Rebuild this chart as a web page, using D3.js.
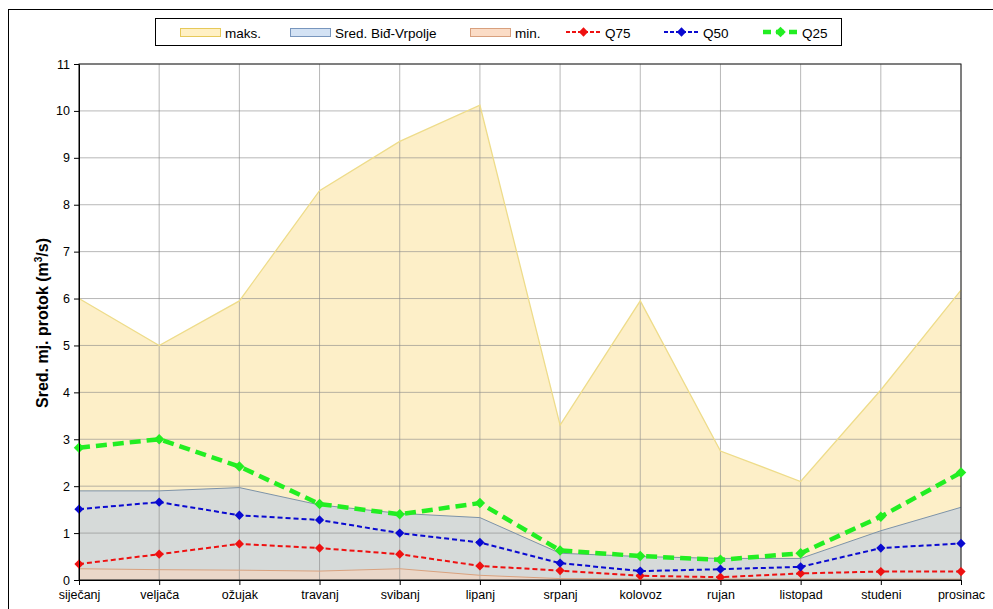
<!DOCTYPE html>
<html>
<head>
<meta charset="utf-8">
<script src="https://cdn.jsdelivr.net/npm/d3@7"></script>
<style>
  body { margin: 0; background: #fff; }
  text { font-family: "Liberation Sans", Arial, sans-serif; }
</style>
</head>
<body>
<svg id="chart"></svg>
<script>
const width = 993;
const height = 609;

const months = ["siječanj", "veljača", "ožujak", "travanj", "svibanj", "lipanj",
  "srpanj", "kolovoz", "rujan", "listopad", "studeni", "prosinac"];

const maks = [6.0, 5.0, 5.95, 8.3, 9.35, 10.12, 3.3, 5.95, 2.75, 2.1, 4.05, 6.18];
const sred = [1.9, 1.9, 1.97, 1.6, 1.42, 1.33, 0.57, 0.5, 0.46, 0.46, 1.05, 1.55];
const minv = [0.24, 0.22, 0.21, 0.19, 0.24, 0.1, 0.03, 0.02, 0.02, 0.02, 0.02, 0.02];
const q75 = [0.34, 0.55, 0.77, 0.68, 0.55, 0.3, 0.2, 0.09, 0.06, 0.14, 0.18, 0.18];
const q50 = [1.51, 1.66, 1.38, 1.28, 1.0, 0.8, 0.36, 0.19, 0.23, 0.28, 0.68, 0.78];
const q25 = [2.82, 3.0, 2.42, 1.62, 1.4, 1.64, 0.63, 0.51, 0.43, 0.57, 1.35, 2.29];

const yTicks = d3.range(0, 12);

const svg = d3.select("#chart").attr("width", width).attr("height", height);

// outer frame
svg.append("rect")
  .attr("x", 8.5).attr("y", 9.5)
  .attr("width", 1000).attr("height", 700)
  .attr("fill", "#fff").attr("stroke", "#000");

const plotLeft = 79, plotRight = 961, plotTop = 64, plotBottom = 580;

const x = d3.scalePoint().domain(months).range([plotLeft, plotRight]);
const y = d3.scaleLinear().domain([0, 11]).range([plotBottom, plotTop]);

function area(vals) {
  return d3.area()
    .x((d, i) => x(months[i]))
    .y0(y(0))
    .y1(d => y(d))(vals);
}
function line(vals) {
  return d3.line()
    .x((d, i) => x(months[i]))
    .y(d => y(d))(vals);
}

// areas
svg.append("path").attr("d", area(maks)).attr("fill", "#fdefc8");
svg.append("path").attr("d", area(sred)).attr("fill", "#d6dad9");
svg.append("path").attr("d", area(minv)).attr("fill", "#ead7c9");

// grid (shows through the areas)
svg.append("g").selectAll("line").data(yTicks).enter().append("line")
  .attr("x1", plotLeft).attr("x2", plotRight)
  .attr("y1", d => y(d)).attr("y2", d => y(d))
  .attr("stroke", "#888").attr("stroke-opacity", 0.6);
svg.append("g").selectAll("line").data(months).enter().append("line")
  .attr("x1", d => x(d)).attr("x2", d => x(d))
  .attr("y1", plotTop).attr("y2", plotBottom)
  .attr("stroke", "#888").attr("stroke-opacity", 0.6);

// area outlines
svg.append("path").attr("d", line(maks))
  .attr("fill", "none").attr("stroke", "#eedc8a").attr("stroke-width", 1.3);
svg.append("path").attr("d", line(sred))
  .attr("fill", "none").attr("stroke", "#7d93a8").attr("stroke-width", 1);
svg.append("path").attr("d", line(minv))
  .attr("fill", "none").attr("stroke", "#d9a27f").attr("stroke-width", 1);

// plot border
svg.append("rect")
  .attr("x", plotLeft).attr("y", plotTop)
  .attr("width", plotRight - plotLeft).attr("height", plotBottom - plotTop)
  .attr("fill", "none").attr("stroke", "#222").attr("stroke-width", 1);

// quantile lines
const diamond = d3.symbol().type(d3.symbolDiamond2);
const series = [
  { vals: q75, color: "#ee1111", w: 2, dash: "5,3", size: 55 },
  { vals: q50, color: "#0a0ad0", w: 2, dash: "5,3", size: 55 },
  { vals: q25, color: "#22ee22", w: 4.5, dash: "11,6", size: 70 }
];
series.forEach(s => {
  svg.append("path").attr("d", line(s.vals))
    .attr("fill", "none").attr("stroke", s.color)
    .attr("stroke-width", s.w).attr("stroke-dasharray", s.dash);
  svg.append("g").selectAll("path").data(s.vals).enter().append("path")
    .attr("d", diamond.size(s.size))
    .attr("transform", (d, i) => `translate(${x(months[i])},${y(d)})`)
    .attr("fill", s.color);
});

// axes
const yAxis = svg.append("g")
  .attr("transform", `translate(${plotLeft},0)`)
  .call(d3.axisLeft(y).tickValues(yTicks).tickSize(5).tickSizeOuter(0));
const xAxis = svg.append("g")
  .attr("transform", `translate(0,${plotBottom})`)
  .call(d3.axisBottom(x).tickSize(5).tickSizeOuter(0));
[yAxis, xAxis].forEach(a => {
  a.select(".domain").attr("stroke", "#000");
  a.selectAll(".tick line").attr("stroke", "#000");
  a.selectAll("text").attr("fill", "#000").attr("font-size", 12.5)
    .attr("font-family", "'Liberation Sans', Arial, sans-serif");
});
yAxis.selectAll("text").attr("x", -9);
xAxis.selectAll("text").attr("y", 10);

// y title
const yt = svg.append("text")
  .attr("transform", `translate(48,323) rotate(-90)`)
  .attr("text-anchor", "middle")
  .attr("font-size", 16).attr("font-weight", "bold").attr("fill", "#000");
yt.append("tspan").text("Sred. mj. protok (m");
yt.append("tspan").text("3").attr("font-size", 10).attr("dy", -6);
yt.append("tspan").text("/s)").attr("dy", 6);

// legend
const legend = svg.append("g");
legend.append("rect")
  .attr("x", 155.5).attr("y", 18.5).attr("width", 686).attr("height", 27)
  .attr("fill", "#fff").attr("stroke", "#000");

const legendAreas = [
  { label: "maks.", fill: "#fff0c4", stroke: "#e6c95a", x: 180 },
  { label: "Sred. Biđ-Vrpolje", fill: "#d3e2f4", stroke: "#7896bd", x: 290 },
  { label: "min.", fill: "#fbdcc6", stroke: "#d8a07e", x: 470 }
];
legendAreas.forEach(d => {
  legend.append("rect")
    .attr("x", d.x + 0.5).attr("y", 28.5).attr("width", 40).attr("height", 8)
    .attr("fill", d.fill).attr("stroke", d.stroke);
  legend.append("text").attr("x", d.x + 45).attr("y", 37.5)
    .attr("font-size", 13.5).attr("fill", "#000").text(d.label);
});

const legendLines = [
  { label: "Q75", s: series[0], x: 566 },
  { label: "Q50", s: series[1], x: 664 },
  { label: "Q25", s: series[2], x: 763 }
];
legendLines.forEach(d => {
  legend.append("line")
    .attr("x1", d.x).attr("x2", d.x + 35).attr("y1", 32).attr("y2", 32)
    .attr("stroke", d.s.color).attr("stroke-width", d.s.w)
    .attr("stroke-dasharray", d.s.w > 3 ? "8,5" : "4,2");
  legend.append("path").attr("d", diamond.size(d.s.size))
    .attr("transform", `translate(${d.x + 17.5},32)`).attr("fill", d.s.color);
  legend.append("text").attr("x", d.x + 39).attr("y", 37.5)
    .attr("font-size", 13.5).attr("fill", "#000").text(d.label);
});
</script>
</body>
</html>
